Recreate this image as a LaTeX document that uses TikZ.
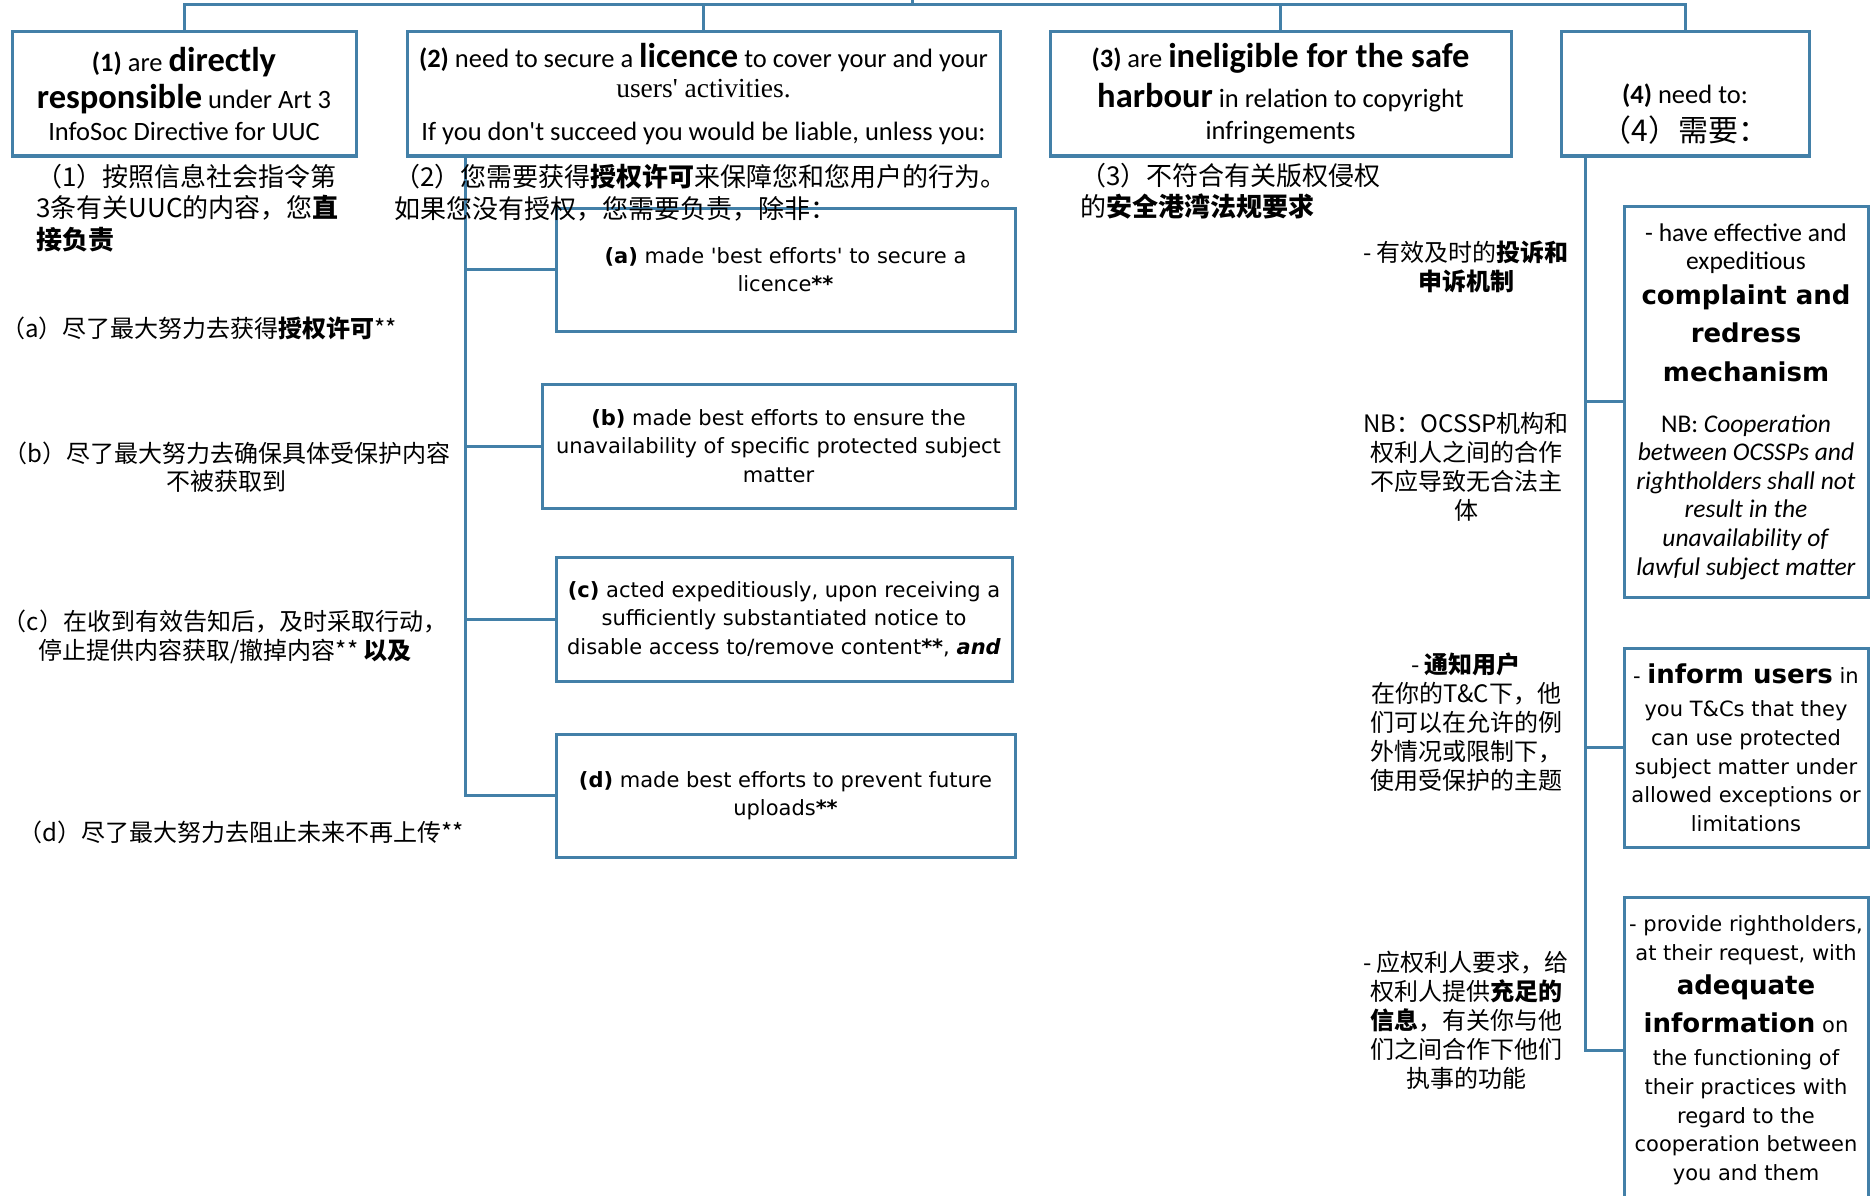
\documentclass[tikz,border=0pt]{standalone}
\usepackage{fontspec}
\setmainfont{Carlito}
\newfontfamily\calib{Carlito}
\newfontfamily\verd{DejaVu Sans}
\newfontfamily\cjk{Noto Sans CJK SC}
\newfontfamily\serifu{Liberation Serif}
\definecolor{lineblue}{RGB}{67,128,168}
\newcommand{\fs}[2]{\fontsize{#1}{#2}\selectfont}
\newcommand{\bigb}[1]{{\fs{34.5}{32}\bfseries #1}}
\newcommand{\bigv}[1]{{\bfseries\fs{26}{28.6}#1}}
\begin{document}
\begin{tikzpicture}[x=1pt,y=-1pt,
  box/.style={draw=lineblue,line width=3pt,rectangle,inner sep=1pt,align=center,text=black},
  conn/.style={draw=lineblue,line width=3pt},
  toplbl/.style={font=\cjk\fs{26}{31.5},inner sep=0pt,align=left,anchor=west},
  sidelbl/.style={font=\cjk\fs{24}{28.3},inner sep=0pt,align=center},
  rlbl/.style={font=\cjk\fs{24}{29},inner sep=0pt,align=center},
  calbox/.style={box,font=\calib\fs{26.5}{32}},
  verbox/.style={box,font=\verd\fs{21}{28.6}}
]
\useasboundingbox (0,0) rectangle (1871,1196);

% top row
\node[calbox,minimum width=344pt,minimum height=124pt] (B1) at (184,94)
 {\textbf{(1)} are \bigb{directly}\\[5pt] \bigb{responsible} under Art 3\\ InfoSoc Directive for UUC};
\node[calbox,font=\calib\fs{26.5}{30},minimum width=593pt,minimum height=124pt] (B2) at (703.5,94)
 {\textbf{(2)} need to secure a \bigb{licence} to cover your and your\\ {\serifu\fs{27.5}{30}users' activities.}\\[13pt] If you don't succeed you would be liable, unless you:};
\node[calbox,minimum width=461pt,minimum height=124pt] (B3) at (1280.5,94)
 {\textbf{(3)} are \bigb{ineligible for the safe}\\[8pt] \bigb{harbour} in relation to copyright\\ infringements};
\node[box,minimum width=248pt,minimum height=124pt] (B4) at (1685,94) {};
\node[font=\calib\fs{26.5}{38},align=center,inner sep=0pt] (t4) at (1685,114)
 {\textbf{(4)} need to:\\ {\cjk\fs{30}{38}（4）需要：}};

% (2) branch boxes
\node[verbox,minimum width=459pt,minimum height=123pt] (Ba) at (785.5,269.5)
 {\textbf{(a)} made 'best efforts' to secure a\\ licence\textbf{**}};
\node[verbox,minimum width=473pt,minimum height=124pt] (Bb) at (778.5,446)
 {\textbf{(b)} made best efforts to ensure the\\ unavailability of specific protected subject\\ matter};
\node[verbox,minimum width=456pt,minimum height=124pt] (Bc) at (784,619)
 {\textbf{(c)} acted expeditiously, upon receiving a\\ sufficiently substantiated notice to\\ disable access to/remove content\textbf{**}, \textbf{\textit{and}}};
\node[verbox,minimum width=459pt,minimum height=123pt] (Bd) at (785.5,795.5)
 {\textbf{(d)} made best efforts to prevent future\\ uploads\textbf{**}};

% (4) branch boxes
\node[box,font=\calib\fs{25.5}{28.6},minimum width=244pt,minimum height=391pt] (Be) at (1746,401.5)
 {- have effective and\\ expeditious\\[6pt] {\verd\bigv{complaint and}}\\[10pt] {\verd\bigv{redress}}\\[10pt] {\verd\bigv{mechanism}}\\[22pt]
  NB: \textit{Cooperation}\\ \textit{between OCSSPs and}\\ \textit{rightholders shall not}\\ \textit{result in the}\\ \textit{unavailability of}\\ \textit{lawful subject matter}};
\node[verbox,minimum width=244pt,minimum height=199pt] (Bf) at (1746,747.5)
 {- \bigv{inform users} in\\[5pt] you T\&Cs that they\\ can use protected\\ subject matter under\\ allowed exceptions or\\ limitations};
\node[verbox,minimum width=244pt,minimum height=306pt] (Bg) at (1746,1050)
 {- provide rightholders,\\ at their request, with\\[6pt] \bigv{adequate}\\[9pt] \bigv{information} on\\[5pt] the functioning of\\ their practices with\\ regard to the\\ cooperation between\\ you and them};

% connectors
\coordinate (root) at (912,-10);
\coordinate (bus) at (912,5);
\draw[conn] (B1.north) |- (bus) -| (B4.north);
\draw[conn] (B2.north) -- (B2.north |- bus);
\draw[conn] (B3.north) -- (B3.north |- bus);
\draw[conn] (root) -- (bus);
\coordinate (s2) at ([xshift=60pt]B2.south west);
\draw[conn] (s2) |- (Bd.west);
\draw[conn] (s2 |- Ba.west) -- (Ba.west);
\draw[conn] (s2 |- Bb.west) -- (Bb.west);
\draw[conn] (s2 |- Bc.west) -- (Bc.west);
\coordinate (s4) at ([xshift=26pt]B4.south west);
\draw[conn] (s4) |- (Bg.west);
\draw[conn] (s4 |- Be.west) -- (Be.west);
\draw[conn] (s4 |- Bf.west) -- (Bf.west);

% Chinese labels
\node[toplbl] (L1) at (36,208) {（1）按照信息社会指令第\\ 3条有关UUC的内容，您\textbf{直}\\ \textbf{接负责}};
\node[toplbl] (L2) at (394,193) {（2）您需要获得\textbf{授权许可}来保障您和您用户的行为。\\ 如果您没有授权，您需要负责，除非：};
\node[toplbl] (L3) at (1080,191) {（3）不符合有关版权侵权\\ 的\textbf{安全港湾法规要求}};
\node[sidelbl] (La) at (199,328) {（a）尽了最大努力去获得\textbf{授权许可}**};
\node[sidelbl] (Lb) at (227,467) {（b）尽了最大努力去确保具体受保护内容\\ 不被获取到};
\node[sidelbl] (Lc) at (225,637) {（c）在收到有效告知后，及时采取行动，\\ 停止提供内容获取/撤掉内容** \textbf{以及}};
\node[sidelbl] (Ld) at (241,832) {（d）尽了最大努力去阻止未来不再上传**};
\node[rlbl] (Le1) at (1466,267) {- 有效及时的\textbf{投诉和}\\ \textbf{申诉机制}};
\node[rlbl] (Le2) at (1466,467) {NB：OCSSP机构和\\ 权利人之间的合作\\ 不应导致无合法主\\ 体};
\node[rlbl] (Lf) at (1466,722) {- \textbf{通知用户}\\ 在你的T\&C下，他\\ 们可以在允许的例\\ 外情况或限制下，\\ 使用受保护的主题};
\node[rlbl] (Lg) at (1466,1020) {- 应权利人要求，给\\ 权利人提供\textbf{充足的}\\ \textbf{信息}，有关你与他\\ 们之间合作下他们\\ 执事的功能};
\end{tikzpicture}
\end{document}
